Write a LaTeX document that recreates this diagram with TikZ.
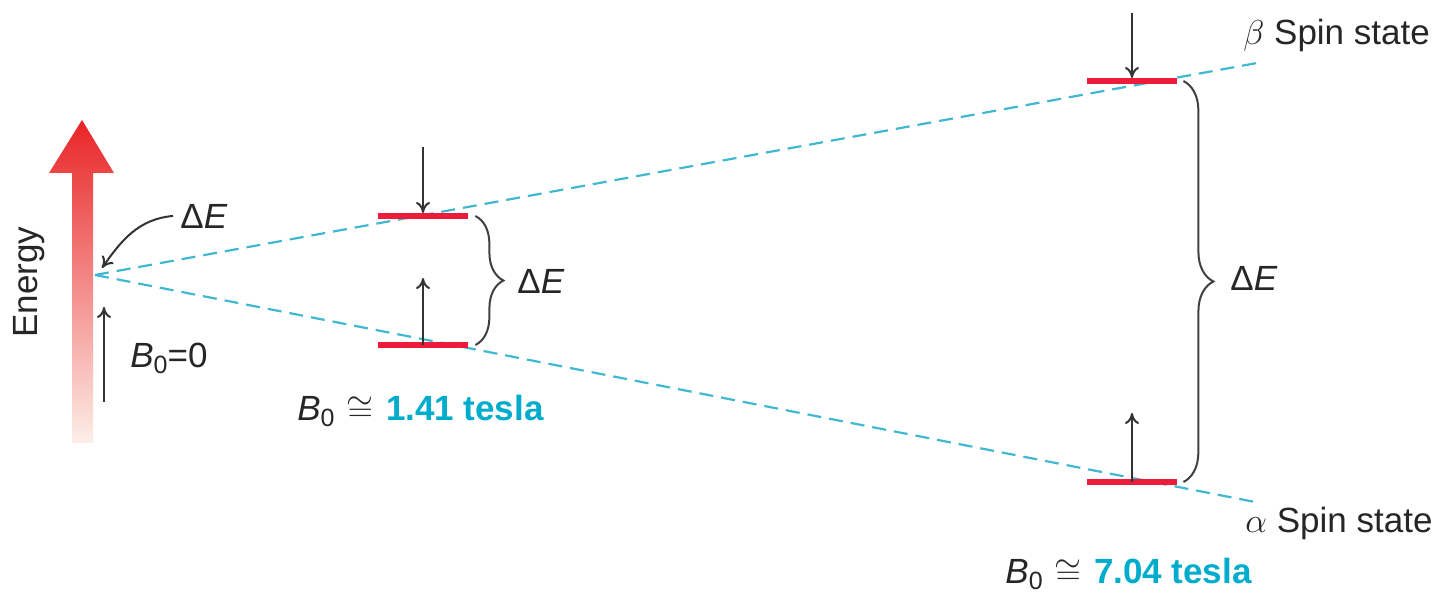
\documentclass[tikz,border=0pt]{standalone}
\usepackage{fontspec}
\setmainfont{Liberation Sans}
\usetikzlibrary{arrows.meta,decorations.pathreplacing}
\newcommand{\Bzero}{\textit{B}\raisebox{-0.35ex}{\fontsize{12.5}{12.5}\selectfont 0}}
\begin{document}
\begin{tikzpicture}[x=0.5pt,y=-0.5pt]
% NMR splitting of the spin states with field strength
\definecolor{nmrBarColor}{RGB}{237,28,58}
\definecolor{nmrFieldColor}{RGB}{64,184,208}
\definecolor{nmrTeslaColor}{RGB}{0,172,204}
\definecolor{nmrEnergyTop}{RGB}{233,36,38}
\definecolor{nmrEnergyBottom}{RGB}{253,238,232}
\providecommand{\nmrLabelSize}{\fontsize{17.5}{20}\selectfont}
\tikzset{
  spinlevel/.style={fill=nmrBarColor, minimum width=45pt, minimum height=2.6pt, inner sep=0pt},
  fieldline/.style={draw=nmrFieldColor, line width=1.1pt, dash pattern=on 7pt off 4pt},
  spinarrow/.style={draw=black!80, line width=1pt, -{To[length=5.5pt,width=7pt]}},
  energybrace/.style={draw=black!75, line width=1pt, decorate, decoration={brace, amplitude=#1}},
  lbl/.style={inner sep=0pt, font=\nmrLabelSize, text=black!85},
}
\useasboundingbox (0,0) rectangle (1441,599);
% Energy axis
\shade[top color=nmrEnergyTop, bottom color=nmrEnergyBottom]
  (72,443) -- (72,173) -- (49,173) -- (82,120) -- (114,173) -- (93,173) -- (93,443) -- cycle;
\node[lbl, rotate=90] (energyAxis) at (29,282) {Energy};
% Field lines
\coordinate (zeroField) at (95,275);
\coordinate (betaEnd) at (1257,63);
\coordinate (alphaEnd) at (1255,502);
\draw[fieldline] (zeroField) -- (betaEnd);
\draw[fieldline] (zeroField) -- (alphaEnd);
% Energy levels
\node[spinlevel] (lowBeta) at (423,216) {};
\node[spinlevel] (lowAlpha) at (423,345) {};
\node[spinlevel] (highBeta) at (1132,81) {};
\node[spinlevel] (highAlpha) at (1132,482) {};
% Spin arrows
\coordinate (zeroUpStart) at (104,402);
\coordinate (zeroUpTip) at (104,307);
\coordinate (lowDownStart) at (423,147);
\coordinate (lowUpTip) at (423,278);
\coordinate (highDownStart) at (1132,13);
\coordinate (highUpTip) at (1132,413);
\draw[spinarrow] (zeroUpStart) -- (zeroUpTip);
\draw[spinarrow] (lowDownStart) -- (lowBeta.north);
\draw[spinarrow] (lowAlpha.center) -- (lowUpTip);
\draw[spinarrow] (highDownStart) -- (highBeta.north);
\draw[spinarrow] (highAlpha.center) -- (highUpTip);
% Gaps
\draw[energybrace=14pt] ([xshift=3.5pt]lowBeta.east) -- ([xshift=3.5pt]lowAlpha.east);
\draw[energybrace=15pt] ([xshift=3pt]highBeta.east) -- ([xshift=3pt]highAlpha.east);
\node[lbl, anchor=base west] (zeroGap) at (180,228) {Δ\textit{E}};
\node[lbl, anchor=base west] (lowGap) at (517,293) {Δ\textit{E}};
\node[lbl, anchor=base west] (highGap) at (1230,290) {Δ\textit{E}};
\coordinate (zeroTip) at (102,268);
\draw[spinarrow] ([xshift=-3.5pt]zeroGap.west) to[out=185,in=55] (zeroTip);
% Labels
\node[lbl, anchor=base west] (zeroFieldLabel) at (130,367) {\Bzero=0};
\node[lbl, anchor=base west] (lowFieldLabel) at (297,420) {\Bzero\hspace{0.35em}$\cong$\hspace{0.35em}{\bfseries\color{nmrTeslaColor}1.41 tesla}};
\node[lbl, anchor=base west] (highFieldLabel) at (1005,583) {\Bzero\hspace{0.35em}$\cong$\hspace{0.35em}{\bfseries\color{nmrTeslaColor}7.04 tesla}};
\node[lbl, anchor=base west] (betaLabel) at (1243,45) {$\beta$ Spin state};
\node[lbl, anchor=base west] (alphaLabel) at (1245,532) {$\alpha$ Spin state};
\end{tikzpicture}
\end{document}
